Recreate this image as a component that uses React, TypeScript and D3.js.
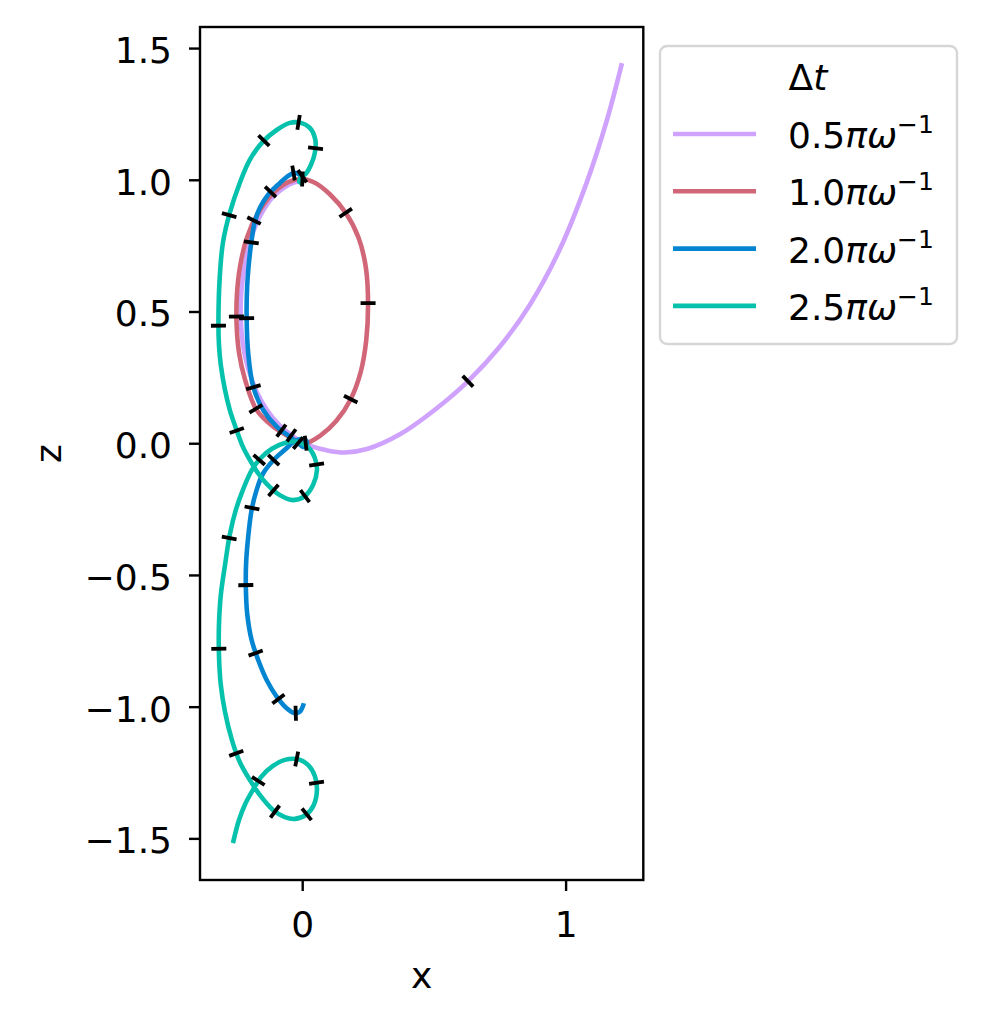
import * as d3 from "d3";
import { useEffect, useRef } from "react";

type Pt = [number, number];

// Δt values (in units of πω⁻¹) and their line colours
const SERIES_LABELS = ["0.5", "1.0", "2.0", "2.5"];
const COLORS = ["#cea2fd", "#d16678", "#0485d1", "#06c2ac"];

const X_DOMAIN: [number, number] = [-0.388, 1.295];
const Z_DOMAIN: [number, number] = [-1.658, 1.58];
const X_TICKS = [0, 1];
const Z_TICKS = [-1.5, -1.0, -0.5, 0.0, 0.5, 1.0, 1.5];

// trajectories, [x, z]
const PURPLE: Pt[] = [
  [-0.001, 0.996], [-0.035, 0.988], [-0.077, 0.965], [-0.115, 0.931], [-0.149, 0.882],
  [-0.176, 0.828], [-0.202, 0.752], [-0.221, 0.657], [-0.233, 0.544], [-0.231, 0.43],
  [-0.218, 0.335], [-0.191, 0.24], [-0.153, 0.157], [-0.111, 0.096], [-0.066, 0.05],
  [-0.02, 0.016], [0.037, -0.012], [0.094, -0.027], [0.162, -0.035], [0.246, -0.022],
  [0.371, 0.034], [0.511, 0.133], [0.629, 0.235], [0.75, 0.366], [0.864, 0.525],
  [0.978, 0.736], [1.081, 0.992], [1.157, 1.227], [1.214, 1.443],
];

const RED: Pt[] = [
  [0.01, 0.0], [0.07, 0.03], [0.13, 0.085], [0.184, 0.167], [0.222, 0.27],
  [0.243, 0.39], [0.25, 0.53], [0.242, 0.665], [0.214, 0.78], [0.165, 0.875],
  [0.105, 0.945], [0.05, 0.988], [0.0, 1.003], [-0.055, 0.99], [-0.115, 0.945],
  [-0.168, 0.873], [-0.21, 0.78], [-0.236, 0.67], [-0.248, 0.56], [-0.249, 0.45],
  [-0.24, 0.345], [-0.218, 0.245], [-0.173, 0.126], [-0.11, 0.063], [-0.045, 0.022],
];

const BLUE: Pt[] = [
  [0.006, 0.996], [-0.009, 1.019], [-0.032, 1.026], [-0.058, 1.011], [-0.092, 0.981],
  [-0.13, 0.943], [-0.161, 0.893], [-0.18, 0.84], [-0.193, 0.764], [-0.203, 0.677],
  [-0.209, 0.595], [-0.211, 0.481], [-0.205, 0.342], [-0.186, 0.215], [-0.148, 0.126],
  [-0.097, 0.063], [-0.047, 0.025], [-0.016, 0.001], [0.003, -0.014], [0.016, -0.01],
  [0.016, 0.009], [-0.005, 0.016], [-0.032, 0.005], [-0.066, -0.025], [-0.104, -0.059],
  [-0.148, -0.114], [-0.173, -0.177], [-0.192, -0.253], [-0.205, -0.355], [-0.213, -0.456],
  [-0.214, -0.544], [-0.209, -0.645], [-0.192, -0.747], [-0.167, -0.823], [-0.135, -0.899],
  [-0.097, -0.962], [-0.059, -1.006], [-0.028, -1.025], [-0.009, -1.019], [0.002, -1.0],
  [0.006, -0.987],
];

const TEAL: Pt[] = [
  [0.004, 0.985], [-0.011, 0.993], [-0.005, 1.009], [0.013, 1.022], [0.033, 1.056],
  [0.048, 1.102], [0.05, 1.151], [0.029, 1.197], [-0.009, 1.217], [-0.047, 1.216],
  [-0.097, 1.189], [-0.149, 1.145], [-0.199, 1.076], [-0.237, 0.988], [-0.275, 0.874],
  [-0.301, 0.761], [-0.313, 0.631], [-0.318, 0.468], [-0.316, 0.373], [-0.309, 0.297],
  [-0.293, 0.202], [-0.275, 0.127], [-0.249, 0.05], [-0.225, -0.014], [-0.199, -0.063],
  [-0.168, -0.113], [-0.134, -0.155], [-0.085, -0.197], [-0.035, -0.216], [0.01, -0.201],
  [0.041, -0.159], [0.056, -0.101], [0.048, -0.056], [0.025, -0.018], [-0.016, 0.005],
  [-0.066, 0.001], [-0.115, -0.021], [-0.157, -0.056], [-0.191, -0.101], [-0.225, -0.177],
  [-0.252, -0.253], [-0.275, -0.348], [-0.293, -0.462], [-0.309, -0.576], [-0.316, -0.69],
  [-0.316, -0.804], [-0.309, -0.918], [-0.293, -1.02], [-0.267, -1.126], [-0.237, -1.21],
  [-0.199, -1.278], [-0.161, -1.335], [-0.111, -1.392], [-0.066, -1.419], [-0.028, -1.426],
  [0.014, -1.411], [0.044, -1.373], [0.056, -1.316], [0.048, -1.263], [0.022, -1.221],
  [-0.02, -1.199], [-0.066, -1.202], [-0.111, -1.225], [-0.153, -1.263], [-0.187, -1.316],
  [-0.218, -1.373], [-0.24, -1.43], [-0.263, -1.518],
];

// time-step markers, [x, z]
const PURPLE_TICKS: Pt[] = [[-0.035, 0.039], [0.629, 0.235]];
const RED_TICKS: Pt[] = [
  [0.012, 0.005], [0.184, 0.167], [0.25, 0.532], [0.165, 0.875], [0.0, 1.0],
  [-0.192, 0.849], [-0.25, 0.481], [-0.173, 0.133],
];
const BLUE_TICKS: Pt[] = [
  [-0.034, 1.031], [-0.116, 0.949], [-0.187, 0.762], [-0.214, 0.475], [-0.18, 0.215],
  [-0.097, 0.025], [-0.021, -0.006], [-0.116, -0.057], [-0.188, -0.247], [-0.214, -0.538],
  [-0.177, -0.797], [-0.095, -0.975], [-0.025, -1.023],
];
const TEAL_TICKS: Pt[] = [
  [0.004, 1.006], [0.048, 1.12], [-0.013, 1.217], [-0.145, 1.149], [-0.268, 0.864],
  [-0.31, 0.446], [-0.245, 0.05], [-0.154, -0.07], [-0.11, -0.18], [0.01, -0.2],
  [0.048, -0.082], [-0.274, -0.361], [-0.31, -0.781], [-0.239, -1.173], [-0.161, -1.285],
  [-0.104, -1.399], [0.014, -1.405], [0.048, -1.289], [-0.021, -1.2],
];

const FONT = "DejaVu Sans";
const FS = 36;

export default function App() {
  const ref = useRef<SVGSVGElement>(null);

  useEffect(() => {
    if (!ref.current) return;
    const svg = d3.select(ref.current);
    svg.selectAll("*").remove();

    const left = 200, right = 643.3, top = 27, bottom = 880;
    const x = d3.scaleLinear().domain(X_DOMAIN).range([left, right]);
    const y = d3.scaleLinear().domain(Z_DOMAIN).range([bottom, top]);

    svg.append("rect").attr("width", 984).attr("height", 1024).attr("fill", "#fff");

    const series = [
      { pts: PURPLE, ticks: PURPLE_TICKS, closed: false },
      { pts: RED, ticks: RED_TICKS, closed: true },
      { pts: BLUE, ticks: BLUE_TICKS, closed: false },
      { pts: TEAL, ticks: TEAL_TICKS, closed: false },
    ];

    const line = d3.line<Pt>().x((d) => x(d[0])).y((d) => y(d[1]))
      .curve(d3.curveCatmullRom.alpha(0.5));
    const loop = d3.line<Pt>().x((d) => x(d[0])).y((d) => y(d[1]))
      .curve(d3.curveCatmullRomClosed.alpha(0.5));

    const paths = series.map((s, i) =>
      svg.append("path")
        .attr("d", (s.closed ? loop : line)(s.pts) ?? "")
        .attr("fill", "none")
        .attr("stroke", COLORS[i])
        .attr("stroke-width", 4.6)
        .attr("stroke-linejoin", "round"),
    );

    // short black bars perpendicular to each curve
    series.forEach((s, i) => {
      const node = paths[i].node() as SVGPathElement;
      const L = node.getTotalLength();
      const samples = d3.range(0, L, 0.5).map((l) => {
        const p = node.getPointAtLength(l);
        return { l, x: p.x, y: p.y };
      });
      s.ticks.forEach((t) => {
        const tx = x(t[0]), ty = y(t[1]);
        const best = d3.least(samples, (p) => (p.x - tx) ** 2 + (p.y - ty) ** 2)!;
        const a = node.getPointAtLength(Math.max(0, best.l - 2));
        const b = node.getPointAtLength(Math.min(L, best.l + 2));
        const dx = b.x - a.x, dy = b.y - a.y;
        const n = Math.hypot(dx, dy) || 1;
        const nx = -dy / n, ny = dx / n;
        const h = 7.5;
        svg.append("line")
          .attr("x1", best.x - nx * h).attr("y1", best.y - ny * h)
          .attr("x2", best.x + nx * h).attr("y2", best.y + ny * h)
          .attr("stroke", "#000")
          .attr("stroke-width", 3.8);
      });
    });

    // frame
    svg.append("rect")
      .attr("x", left).attr("y", top)
      .attr("width", right - left).attr("height", bottom - top)
      .attr("fill", "none").attr("stroke", "#000").attr("stroke-width", 2.4);

    const gx = svg.append("g")
      .attr("transform", `translate(0,${bottom})`)
      .call(d3.axisBottom(x).tickValues(X_TICKS).tickFormat(d3.format("d"))
        .tickSize(11).tickSizeOuter(0).tickPadding(20));
    const gy = svg.append("g")
      .attr("transform", `translate(${left},0)`)
      .call(d3.axisLeft(y).tickValues(Z_TICKS).tickFormat(d3.format(".1f"))
        .tickSize(11).tickSizeOuter(0).tickPadding(17));
    [gx, gy].forEach((g) => {
      g.select(".domain").remove();
      g.selectAll("line").attr("stroke", "#000").attr("stroke-width", 2.4);
      g.selectAll("text")
        .attr("font-family", FONT)
        .attr("font-size", FS)
        .attr("fill", "#000");
    });
    gy.selectAll("text").attr("dy", "0.4em");

    svg.append("text")
      .attr("x", (left + right) / 2).attr("y", 988)
      .attr("text-anchor", "middle")
      .attr("font-family", FONT).attr("font-size", FS)
      .text("x");
    svg.append("text")
      .attr("transform", `translate(61,${(top + bottom) / 2}) rotate(-90)`)
      .attr("text-anchor", "middle")
      .attr("font-family", FONT).attr("font-size", FS)
      .text("z");

    // legend
    const lg = svg.append("g");
    lg.append("rect")
      .attr("x", 660).attr("y", 46).attr("width", 297).attr("height", 298)
      .attr("rx", 7)
      .attr("fill", "#fff").attr("fill-opacity", 0.8)
      .attr("stroke", "#d6d6d6").attr("stroke-width", 2.4);
    const title = lg.append("text")
      .attr("x", 808).attr("y", 90)
      .attr("text-anchor", "middle")
      .attr("font-family", FONT).attr("font-size", FS);
    title.append("tspan").text("Δ");
    title.append("tspan").attr("font-style", "italic").text("t");

    SERIES_LABELS.forEach((lab, i) => {
      const ly = 134 + i * 57.3;
      lg.append("line")
        .attr("x1", 673).attr("x2", 756).attr("y1", ly).attr("y2", ly)
        .attr("stroke", COLORS[i]).attr("stroke-width", 4.6);
      const t = lg.append("text")
        .attr("x", 788).attr("y", ly + 14)
        .attr("font-family", FONT).attr("font-size", FS);
      t.append("tspan").text(lab);
      t.append("tspan").attr("font-style", "italic").text("πω");
      t.append("tspan").attr("font-size", 25).attr("dy", -15).text("−1");
    });
  }, []);

  return (
    <svg
      ref={ref}
      width={984}
      height={1024}
      style={{ position: "absolute", left: 0, top: 0 }}
    />
  );
}
